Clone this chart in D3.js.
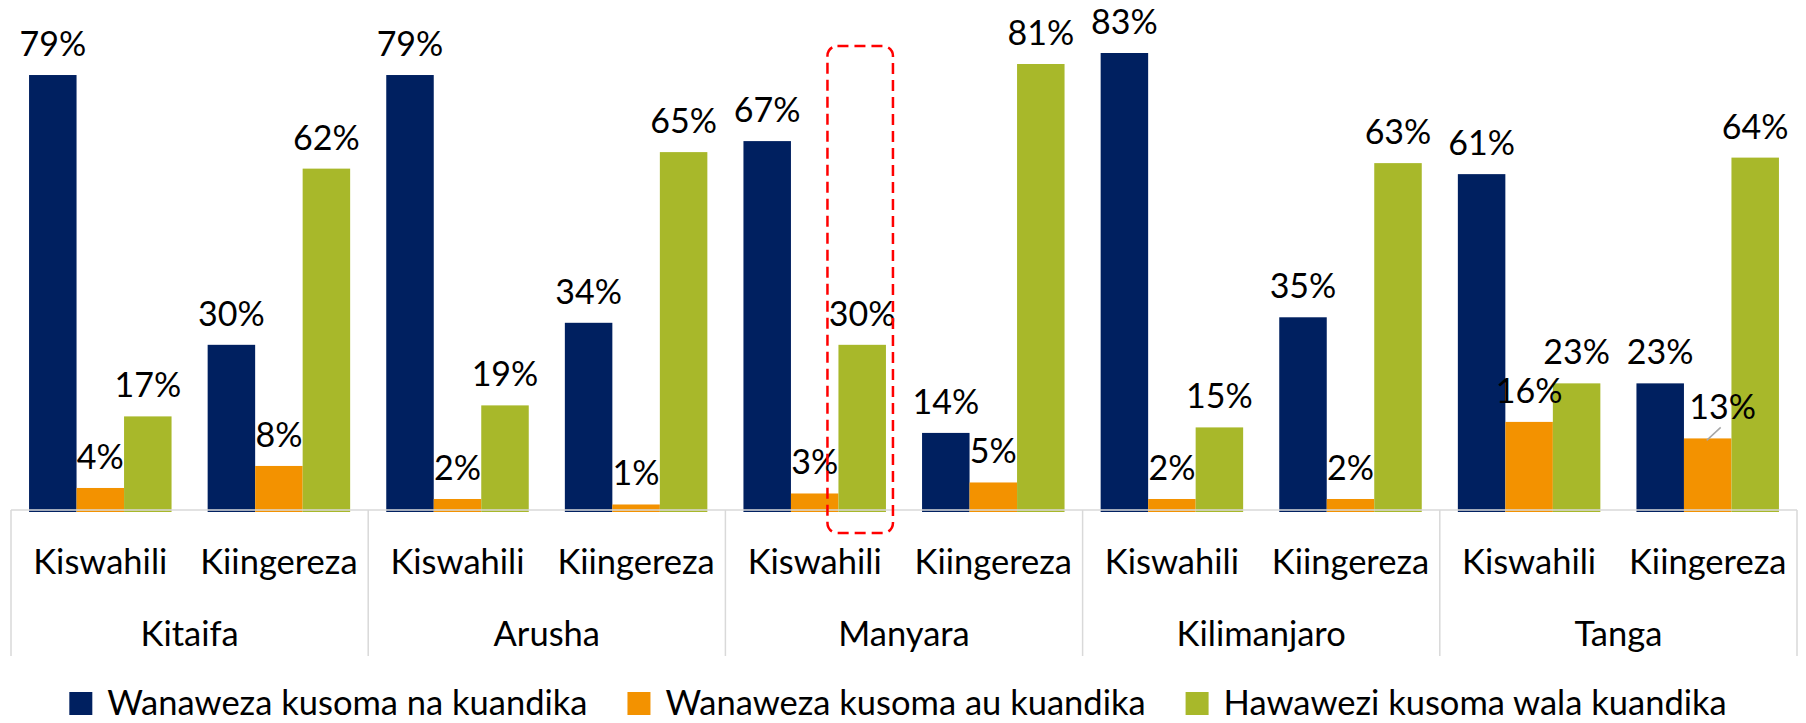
<!DOCTYPE html>
<html>
<head>
<meta charset="utf-8">
<script src="https://cdn.jsdelivr.net/npm/d3@7"></script>
<style>
  body { margin: 0; background: #fff; }
  text { font-family: Lato, "Open Sans", sans-serif; fill: #000; }
</style>
</head>
<body>
<div id="chart"></div>
<script>
// regions (outer level of the category axis)
var regions = ["Kitaifa", "Arusha", "Manyara", "Kilimanjaro", "Tanga"];
// subjects (inner level)
var subjects = ["Kiswahili", "Kiingereza"];
// series names for the legend
var seriesNames = ["Wanaweza kusoma na kuandika", "Wanaweza kusoma au kuandika", "Hawawezi kusoma wala kuandika"];
var seriesColors = ["#002060", "#F39200", "#A8B82A"];

// values in %, ordered region by region: Kiswahili, Kiingereza
var canReadAndWrite = [79, 30, 79, 34, 67, 14, 83, 35, 61, 23];
var canReadOrWrite  = [4, 8, 2, 1, 3, 5, 2, 2, 16, 13];
var cannotReadNorWrite = [17, 62, 19, 65, 30, 81, 15, 63, 23, 64];

var seriesValues = [canReadAndWrite, canReadOrWrite, cannotReadNorWrite];

// build flat rows for d3
var data = [];
regions.forEach(function(r, ri) {
  subjects.forEach(function(s, si) {
    var idx = ri * 2 + si;
    seriesValues.forEach(function(vals, k) {
      data.push({region: r, subject: s, series: k, value: vals[idx]});
    });
  });
});

var width = 1806, height = 723;
var baseline = 510;

var svg = d3.select("#chart")
  .append("svg")
    .attr("width", width)
    .attr("height", height);

// scales
var x0 = d3.scaleBand()
  .domain(regions)
  .range([11, 1797])
  .padding(0);

var x1 = d3.scaleBand()
  .domain(subjects)
  .range([0, x0.bandwidth()])
  .padding(0);

var x2 = d3.scaleBand()
  .domain([0, 1, 2])
  .range([0, x1.bandwidth()])
  .paddingInner(0)
  .paddingOuter(0.38);

var y = d3.scaleLinear()
  .domain([0, 83])
  .range([baseline, 53]);

function barX(d) { return x0(d.region) + x1(d.subject) + x2(d.series); }

// bars
svg.selectAll("rect.bar")
  .data(data)
  .enter()
  .append("rect")
    .attr("class", "bar")
    .attr("x", barX)
    .attr("width", x2.bandwidth())
    .attr("y", function(d) { return y(d.value); })
    .attr("height", function(d) { return baseline - y(d.value) + 2; })
    .attr("fill", function(d) { return seriesColors[d.series]; });

// category axis frame (light grey box lines)
var frame = svg.append("g")
  .attr("stroke", "#d9d9d9")
  .attr("stroke-width", 1.5);
frame.append("line")
  .attr("x1", x0.range()[0]).attr("x2", x0.range()[1])
  .attr("y1", baseline).attr("y2", baseline);
var edges = regions.map(function(r) { return x0(r); }).concat([x0.range()[1]]);
frame.selectAll("line.sep")
  .data(edges)
  .enter()
  .append("line")
    .attr("class", "sep")
    .attr("x1", function(d) { return d; }).attr("x2", function(d) { return d; })
    .attr("y1", baseline).attr("y2", 656);

// subject labels
regions.forEach(function(r) {
  svg.selectAll(null)
    .data(subjects)
    .enter()
    .append("text")
      .attr("x", function(s) { return x0(r) + x1(s) + x1.bandwidth() / 2; })
      .attr("y", 574)
      .attr("text-anchor", "middle")
      .style("font-size", "34.5px")
      .text(function(s) { return s; });
});

// region labels
svg.selectAll("text.region")
  .data(regions)
  .enter()
  .append("text")
    .attr("class", "region")
    .attr("x", function(r) { return x0(r) + x0.bandwidth() / 2; })
    .attr("y", 646)
    .attr("text-anchor", "middle")
    .style("font-size", "34.5px")
    .text(function(r) { return r; });

// data labels; the Tanga/Kiingereza orange one is pushed right with a leader line
function nudge(d) { return (d.region === "Tanga" && d.subject === "Kiingereza" && d.series === 1) ? 15 : 0; }

svg.selectAll("text.val")
  .data(data)
  .enter()
  .append("text")
    .attr("class", "val")
    .attr("x", function(d) { return barX(d) + x2.bandwidth() / 2 + nudge(d); })
    .attr("y", function(d) { return y(d.value) - 19; })
    .attr("text-anchor", "middle")
    .style("font-size", "34px")
    .text(function(d) { return d.value + "%"; });

data.filter(function(d) { return nudge(d) > 0; }).forEach(function(d) {
  var cx = barX(d) + x2.bandwidth() / 2;
  svg.append("line")
    .attr("x1", cx - 1).attr("y1", y(d.value) + 2)
    .attr("x2", cx + 13).attr("y2", y(d.value) - 11)
    .attr("stroke", "#a6a6a6")
    .attr("stroke-width", 1.5);
});

// red dashed highlight round Manyara / Kiswahili / third series
var hx = x0("Manyara") + x1("Kiswahili") + x2(2);
svg.append("rect")
  .attr("x", hx - 11)
  .attr("y", 46)
  .attr("width", x2.bandwidth() + 18)
  .attr("height", 533 - 46)
  .attr("rx", 10)
  .attr("fill", "none")
  .attr("stroke", "#ff0000")
  .attr("stroke-width", 2.5)
  .attr("stroke-dasharray", "11,6");

// legend
var legend = svg.append("g");
var items = legend.selectAll("g.item")
  .data(seriesNames)
  .enter()
  .append("g")
    .attr("class", "item");
items.append("rect")
  .attr("width", 23).attr("height", 23)
  .attr("y", 692)
  .attr("fill", function(d, i) { return seriesColors[i]; });
items.append("text")
  .attr("x", 38)
  .attr("y", 715)
  .style("font-size", "34.5px")
  .text(function(d) { return d; });

var offs = [], pos = 0;
items.each(function() {
  offs.push(pos);
  pos += this.getBBox().width + 40;
});
var total = pos - 40;
var startX = 898 - total / 2;
items.attr("transform", function(d, i) { return "translate(" + (startX + offs[i]) + ",0)"; });
</script>
</body>
</html>
